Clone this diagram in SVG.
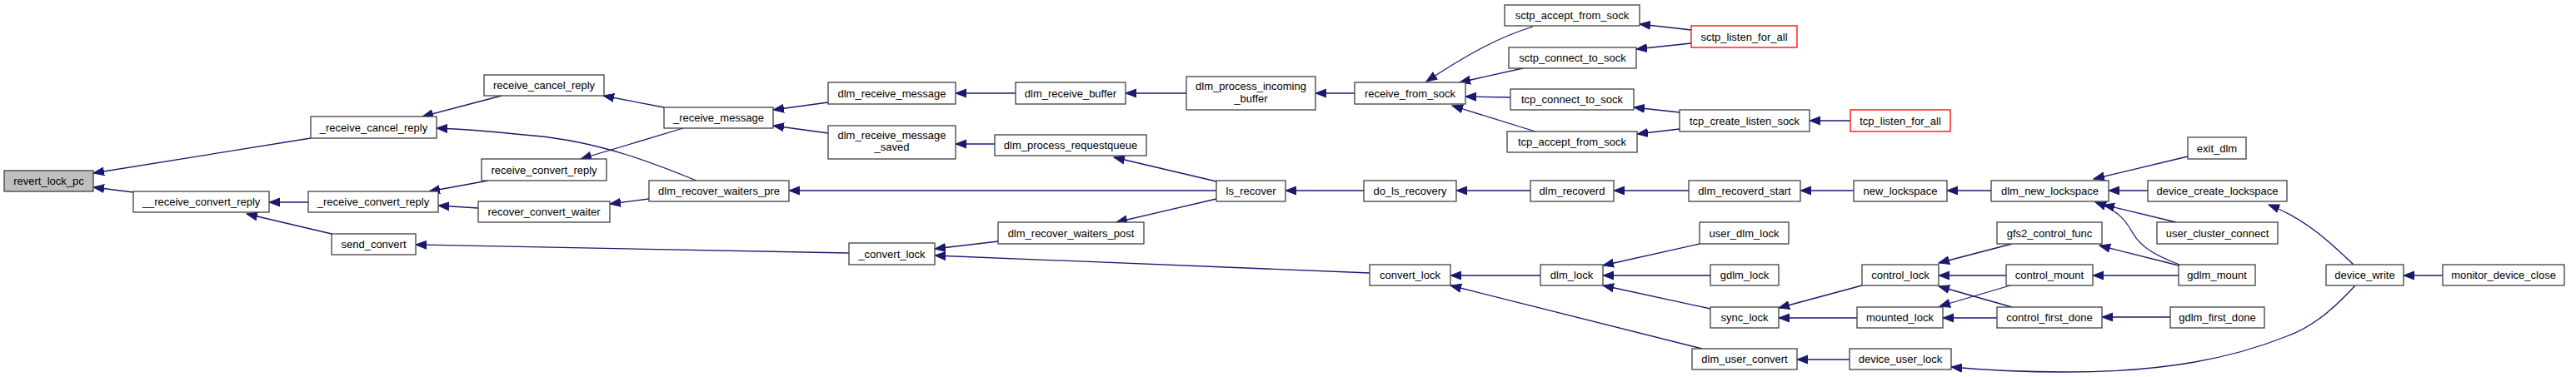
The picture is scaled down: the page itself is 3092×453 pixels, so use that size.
<svg xmlns="http://www.w3.org/2000/svg" width="3092" height="453" viewBox="0 0 3092 453">
<style>
.n rect{fill:#ffffff;stroke:#404040;stroke-width:1.3}
.n.root rect{fill:#bfbfbf}
.n.red rect{stroke:#ff0000}
.n text{font-family:"Liberation Sans",Arial,sans-serif;font-size:13px;fill:#000000;text-anchor:middle}
#edges path{fill:none;stroke:#191970;stroke-width:1.3;marker-end:url(#ah)}
</style>
<defs>
<marker id="ah" markerUnits="userSpaceOnUse" markerWidth="14" markerHeight="12" viewBox="0 -6 14 12" refX="13" refY="0" orient="auto">
<path d="M0,-5 L13,0 L0,5 z" fill="#191970" stroke="#191970" stroke-width="1"/>
</marker>
</defs>
<rect x="0" y="0" width="3092" height="453" fill="#ffffff"/>
<g id="edges">
<path d="M373,166 L112,208"/>
<path d="M160,231 L112,225"/>
<path d="M370,243 L323,243"/>
<path d="M398,281 L296,257"/>
<path d="M602,115 L507,140"/>
<path d="M836,217 C790,198 720,170 640,163 C590,158 555,155 524,154"/>
<path d="M797,129 L724,115"/>
<path d="M820,154 L697,191"/>
<path d="M994,123 L928,132"/>
<path d="M994,160 L928,151"/>
<path d="M586,217 L515,230"/>
<path d="M574,250 L526,247"/>
<path d="M779,239 L732,245"/>
<path d="M1460,229 L947,229"/>
<path d="M1019,304 L499,294"/>
<path d="M1219,112 L1147,112"/>
<path d="M1424,112 L1351,112"/>
<path d="M1194,173 L1147,173"/>
<path d="M1460,218 L1337,189"/>
<path d="M1460,239 L1340,267"/>
<path d="M1198,290 L1122,299"/>
<path d="M1644,328 L1122,307"/>
<path d="M1626,112 L1579,112"/>
<path d="M1840,32 C1800,44 1760,66 1712,98"/>
<path d="M1828,82 L1752,99"/>
<path d="M1813,117 L1759,116"/>
<path d="M1843,158 L1743,127"/>
<path d="M2030,36 L1968,29"/>
<path d="M2030,52 L1964,59"/>
<path d="M2016,135 L1961,129"/>
<path d="M2016,155 L1965,161"/>
<path d="M2221,145 L2172,145"/>
<path d="M1637,229 L1543,229"/>
<path d="M1837,229 L1748,229"/>
<path d="M2027,229 L1937,229"/>
<path d="M2225,229 L2161,229"/>
<path d="M2390,229 L2337,229"/>
<path d="M2626,188 L2513,215"/>
<path d="M2578,229 L2531,229"/>
<path d="M2612,267 L2525,246"/>
<path d="M2616,318 C2590,308 2570,298 2560,280 C2550,262 2540,252 2515,243"/>
<path d="M2615,319 L2520,295"/>
<path d="M2615,331 L2512,331"/>
<path d="M2605,381 L2523,381"/>
<path d="M2825,318 C2800,294 2768,263 2723,246"/>
<path d="M2827,343 C2795,378 2770,395 2745,404 C2680,430 2600,447 2480,447 C2430,447 2385,445 2342,441"/>
<path d="M2932,331 L2885,331"/>
<path d="M1849,331 L1741,331"/>
<path d="M2043,419 L1741,343"/>
<path d="M2040,293 L1924,319"/>
<path d="M2053,331 L1924,331"/>
<path d="M2053,371 L1924,343"/>
<path d="M2235,343 L2135,370"/>
<path d="M2229,382 L2135,382"/>
<path d="M2415,293 L2327,316"/>
<path d="M2408,331 L2327,331"/>
<path d="M2415,369 L2327,344"/>
<path d="M2413,343 L2328,368"/>
<path d="M2397,382 L2332,382"/>
<path d="M2220,432 L2157,432"/>
</g>
<g id="revert_lock_pc" class="n root"><rect x="5" y="205" width="107" height="25"/><text x="58.5" y="222">revert_lock_pc</text></g>
<g id="_receive_cancel_reply" class="n"><rect x="373" y="140" width="151" height="26"/><text x="448.5" y="157.5">_receive_cancel_reply</text></g>
<g id="__receive_convert_reply" class="n"><rect x="160" y="230" width="163" height="25"/><text x="241.5" y="247">__receive_convert_reply</text></g>
<g id="_receive_convert_reply" class="n"><rect x="370" y="230" width="156" height="25"/><text x="448" y="247">_receive_convert_reply</text></g>
<g id="send_convert" class="n"><rect x="398" y="281" width="101" height="25"/><text x="448.5" y="298">send_convert</text></g>
<g id="receive_cancel_reply" class="n"><rect x="581" y="90" width="144" height="25"/><text x="653" y="107">receive_cancel_reply</text></g>
<g id="_receive_message" class="n"><rect x="797" y="129" width="131" height="25"/><text x="862.5" y="146">_receive_message</text></g>
<g id="receive_convert_reply" class="n"><rect x="578" y="191" width="150" height="26"/><text x="653" y="208.5">receive_convert_reply</text></g>
<g id="dlm_recover_waiters_pre" class="n"><rect x="779" y="217" width="168" height="25"/><text x="863" y="234">dlm_recover_waiters_pre</text></g>
<g id="recover_convert_waiter" class="n"><rect x="574" y="242" width="158" height="25"/><text x="653" y="259">recover_convert_waiter</text></g>
<g id="dlm_receive_message" class="n"><rect x="994" y="99" width="153" height="26"/><text x="1070.5" y="116.5">dlm_receive_message</text></g>
<g id="dlm_receive_message_saved" class="n"><rect x="994" y="151" width="153" height="40"/><text x="1070.5" y="167">dlm_receive_message</text><text x="1070.5" y="180.5">_saved</text></g>
<g id="_convert_lock" class="n"><rect x="1019" y="292" width="103" height="26"/><text x="1070.5" y="309.5">_convert_lock</text></g>
<g id="dlm_receive_buffer" class="n"><rect x="1219" y="99" width="132" height="26"/><text x="1285" y="116.5">dlm_receive_buffer</text></g>
<g id="dlm_process_incoming_buffer" class="n"><rect x="1424" y="92" width="155" height="40"/><text x="1501.5" y="108">dlm_process_incoming</text><text x="1501.5" y="122.5">_buffer</text></g>
<g id="dlm_process_requestqueue" class="n"><rect x="1194" y="162" width="182" height="25"/><text x="1285" y="179">dlm_process_requestqueue</text></g>
<g id="ls_recover" class="n"><rect x="1460" y="217" width="83" height="25"/><text x="1501.5" y="234">ls_recover</text></g>
<g id="dlm_recover_waiters_post" class="n"><rect x="1198" y="267" width="175" height="26"/><text x="1285.5" y="284.5">dlm_recover_waiters_post</text></g>
<g id="receive_from_sock" class="n"><rect x="1626" y="99" width="133" height="26"/><text x="1692.5" y="116.5">receive_from_sock</text></g>
<g id="sctp_accept_from_sock" class="n"><rect x="1806" y="6" width="162" height="25"/><text x="1887" y="23">sctp_accept_from_sock</text></g>
<g id="sctp_connect_to_sock" class="n"><rect x="1811" y="57" width="153" height="25"/><text x="1887.5" y="74">sctp_connect_to_sock</text></g>
<g id="tcp_connect_to_sock" class="n"><rect x="1813" y="107" width="148" height="25"/><text x="1887" y="124">tcp_connect_to_sock</text></g>
<g id="tcp_accept_from_sock" class="n"><rect x="1809" y="158" width="156" height="25"/><text x="1887" y="175">tcp_accept_from_sock</text></g>
<g id="sctp_listen_for_all" class="n red"><rect x="2030" y="31" width="127" height="26"/><text x="2093.5" y="48.5">sctp_listen_for_all</text></g>
<g id="tcp_create_listen_sock" class="n"><rect x="2016" y="132" width="156" height="26"/><text x="2094" y="149.5">tcp_create_listen_sock</text></g>
<g id="tcp_listen_for_all" class="n red"><rect x="2221" y="132" width="120" height="26"/><text x="2281" y="149.5">tcp_listen_for_all</text></g>
<g id="do_ls_recovery" class="n"><rect x="1637" y="217" width="111" height="25"/><text x="1692.5" y="234">do_ls_recovery</text></g>
<g id="dlm_recoverd" class="n"><rect x="1837" y="217" width="100" height="25"/><text x="1887" y="234">dlm_recoverd</text></g>
<g id="dlm_recoverd_start" class="n"><rect x="2027" y="217" width="134" height="25"/><text x="2094" y="234">dlm_recoverd_start</text></g>
<g id="new_lockspace" class="n"><rect x="2225" y="217" width="112" height="25"/><text x="2281" y="234">new_lockspace</text></g>
<g id="dlm_new_lockspace" class="n"><rect x="2390" y="217" width="141" height="25"/><text x="2460.5" y="234">dlm_new_lockspace</text></g>
<g id="convert_lock" class="n"><rect x="1644" y="318" width="97" height="25"/><text x="1692.5" y="335">convert_lock</text></g>
<g id="dlm_lock" class="n"><rect x="1849" y="318" width="75" height="25"/><text x="1886.5" y="335">dlm_lock</text></g>
<g id="user_dlm_lock" class="n"><rect x="2040" y="267" width="107" height="26"/><text x="2093.5" y="284.5">user_dlm_lock</text></g>
<g id="gdlm_lock" class="n"><rect x="2053" y="318" width="82" height="25"/><text x="2094" y="335">gdlm_lock</text></g>
<g id="sync_lock" class="n"><rect x="2053" y="369" width="82" height="25"/><text x="2094" y="386">sync_lock</text></g>
<g id="dlm_user_convert" class="n"><rect x="2031" y="419" width="126" height="25"/><text x="2094" y="436">dlm_user_convert</text></g>
<g id="control_lock" class="n"><rect x="2235" y="318" width="92" height="25"/><text x="2281" y="335">control_lock</text></g>
<g id="mounted_lock" class="n"><rect x="2229" y="369" width="103" height="25"/><text x="2280.5" y="386">mounted_lock</text></g>
<g id="device_user_lock" class="n"><rect x="2220" y="419" width="122" height="25"/><text x="2281" y="436">device_user_lock</text></g>
<g id="gfs2_control_func" class="n"><rect x="2397" y="267" width="126" height="26"/><text x="2460" y="284.5">gfs2_control_func</text></g>
<g id="control_mount" class="n"><rect x="2408" y="318" width="104" height="25"/><text x="2460" y="335">control_mount</text></g>
<g id="control_first_done" class="n"><rect x="2397" y="369" width="126" height="25"/><text x="2460" y="386">control_first_done</text></g>
<g id="exit_dlm" class="n"><rect x="2626" y="165" width="70" height="26"/><text x="2661" y="182.5">exit_dlm</text></g>
<g id="device_create_lockspace" class="n"><rect x="2578" y="217" width="167" height="25"/><text x="2661.5" y="234">device_create_lockspace</text></g>
<g id="user_cluster_connect" class="n"><rect x="2589" y="267" width="145" height="26"/><text x="2661.5" y="284.5">user_cluster_connect</text></g>
<g id="gdlm_mount" class="n"><rect x="2615" y="318" width="92" height="25"/><text x="2661" y="335">gdlm_mount</text></g>
<g id="gdlm_first_done" class="n"><rect x="2605" y="369" width="113" height="25"/><text x="2661.5" y="386">gdlm_first_done</text></g>
<g id="device_write" class="n"><rect x="2792" y="318" width="93" height="25"/><text x="2838.5" y="335">device_write</text></g>
<g id="monitor_device_close" class="n"><rect x="2932" y="318" width="146" height="25"/><text x="3005" y="335">monitor_device_close</text></g>
</svg>
